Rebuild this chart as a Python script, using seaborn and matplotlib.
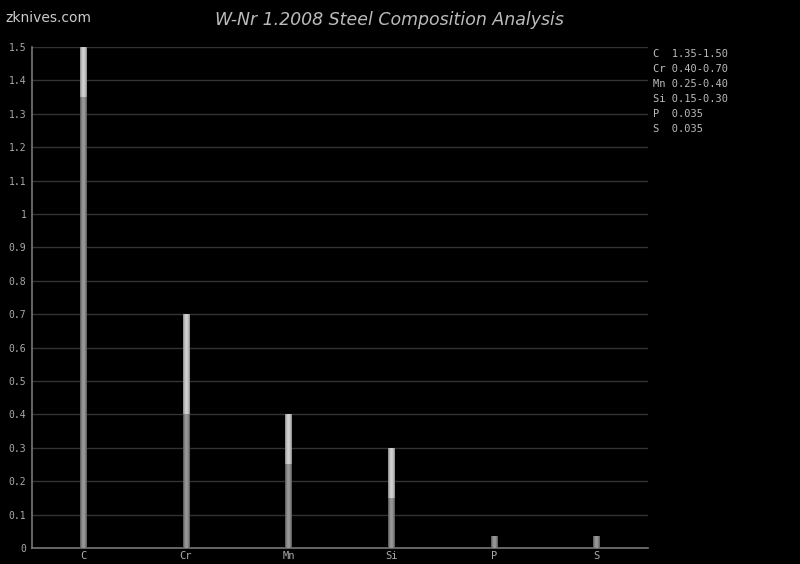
import numpy as np
import pandas as pd
import seaborn as sns
import matplotlib
matplotlib.use("Agg")
import matplotlib.pyplot as plt

# element ranges (wt %)
elements = ["C", "Cr", "Mn", "Si", "P", "S"]
min_vals = [1.35, 0.40, 0.25, 0.15, 0.035, 0.035]
max_vals = [1.50, 0.70, 0.40, 0.30, 0.035, 0.035]
legend_lines = ["C  1.35-1.50", "Cr 0.40-0.70", "Mn 0.25-0.40",
                "Si 0.15-0.30", "P  0.035", "S  0.035"]
yticks = [round(i * 0.1, 1) for i in range(16)]

df = pd.DataFrame({"element": elements, "min": min_vals, "max": max_vals})

sns.set_style("dark")
plt.rcParams["font.family"] = ["DejaVu Sans"]

fig = plt.figure(figsize=(8, 5.64), dpi=100, facecolor="black")
ax = fig.add_axes([0.04, 0.0284, 0.77, 0.8883])
ax.set_facecolor("black")

sns.barplot(data=df, x="element", y="max", color="#bbbbbb", width=0.068,
            saturation=1, ax=ax, zorder=3, edgecolor="none", linewidth=0)
sns.barplot(data=df, x="element", y="min", color="#777777", width=0.068,
            saturation=1, ax=ax, zorder=4, edgecolor="none", linewidth=0)

# gradient fill on each bar (dark edges, light centre)
n = len(elements)
for i, p in enumerate(ax.patches):
    x0, w = p.get_x(), p.get_width()
    h = p.get_height()
    if h <= 0:
        continue
    upper = i < n
    t = np.linspace(-1, 1, 32)
    shade = 1 - np.abs(t) ** 2
    if upper:
        vals = 0.52 + 0.30 * shade
    else:
        vals = 0.32 + 0.28 * shade
    img = np.tile(vals, (2, 1))
    im = ax.imshow(img, cmap="gray", vmin=0, vmax=1, aspect="auto",
                   extent=(x0, x0 + w, 0, h), zorder=p.get_zorder() + 0.5,
                   interpolation="bilinear")
    im.set_clip_path(p)

ax.set_xlim(-0.5, n - 0.5)
ax.set_ylim(0, 1.5)
ax.set_yticks(yticks)
ax.set_yticklabels([("%g" % v) for v in yticks], family="DejaVu Sans Mono",
                   fontsize=7, color="#aaaaaa")
ax.set_xticks(range(n))
ax.set_xticklabels(elements, family="DejaVu Sans Mono", fontsize=7.5,
                   color="#aaaaaa")
ax.tick_params(axis="y", length=0, pad=4)
ax.tick_params(axis="x", length=0, pad=2)
ax.set_xlabel("")
ax.set_ylabel("")
ax.grid(axis="y", color="#333333", linewidth=1, zorder=0)
ax.grid(axis="x", visible=False)
for s in ["top", "right"]:
    ax.spines[s].set_visible(False)
for s in ["left", "bottom"]:
    ax.spines[s].set_visible(True)
    ax.spines[s].set_color("#777777")
    ax.spines[s].set_linewidth(1.2)

fig.text(389 / 800, 1 - 20 / 564, "W-Nr 1.2008 Steel Composition Analysis",
         ha="center", va="center", fontsize=12.5, style="italic",
         color="#bbbbbb")
fig.text(5 / 800, 1 - 18 / 564, "zknives.com", ha="left", va="center",
         fontsize=10, color="#cccccc")

for k, line in enumerate(legend_lines):
    fig.text(653 / 800, 1 - (54 + 15 * k) / 564, line, ha="left", va="center",
             family="DejaVu Sans Mono", fontsize=7.5, color="#bbbbbb")

fig.savefig("out.png", dpi=100, facecolor="black")
